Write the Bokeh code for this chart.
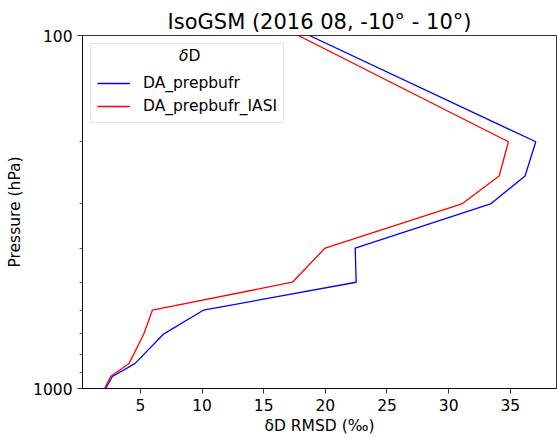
from bokeh.plotting import figure
from bokeh.models import Range1d, FixedTicker, Legend, LegendItem, Label, CustomJSTickFormatter
from bokeh.embed import file_html
from bokeh.resources import INLINE

# Data
levels = [1000, 925, 850, 700, 600, 500, 400, 300, 250, 200, 100]
rmsd_prepbufr = [2.18, 2.72, 4.55, 6.9, 10.1, 22.5, 22.42, 33.4, 36.2, 37.07, 18.7]
rmsd_prepbufr_iasi = [2.09, 2.58, 4.07, 5.28, 5.97, 17.33, 19.98, 31.07, 34.1, 34.85, 17.8]
series_names = ["DA_prepbufr", "DA_prepbufr_IASI"]
x_ticks = [5, 10, 15, 20, 25, 30, 35]
y_major = [100, 1000]
y_minor = [200, 300, 400, 500, 600, 700, 800, 900]

FONT = "DejaVu Sans"
TICK = "15.5px"
LEG = "15.5px"

p = figure(width=557, height=441,
           x_range=Range1d(0.3, 38.75), y_range=Range1d(1000, 100),
           y_axis_type="log", output_backend="svg", toolbar_location=None,
           min_border_left=82, min_border_right=1, min_border_top=35, min_border_bottom=53)

p.title.text = "IsoGSM (2016 08, -10° - 10°)"
p.title.align = "center"
p.title.text_font = FONT
p.title.text_font_size = "21px"
p.title.text_font_style = "normal"
p.title.text_color = "black"
p.title.standoff = 3

p.xgrid.visible = False
p.ygrid.visible = False
p.outline_line_color = "black"
p.outline_line_width = 0.8
p.outline_line_alpha = 1.0
p.background_fill_color = "white"
p.border_fill_color = "white"

r1 = p.line(rmsd_prepbufr, levels, line_color="blue", line_width=1.3)
r2 = p.line(rmsd_prepbufr_iasi, levels, line_color="red", line_width=1.3)

for ax in (p.xaxis[0], p.yaxis[0]):
    ax.axis_line_color = "black"
    ax.axis_line_width = 0.8
    ax.major_tick_line_color = "black"
    ax.major_tick_line_width = 0.8
    ax.minor_tick_line_color = "black"
    ax.minor_tick_line_width = 0.6
    ax.major_tick_in = 0
    ax.major_tick_out = 5
    ax.minor_tick_in = 0
    ax.minor_tick_out = 3
    ax.major_label_text_font = FONT
    ax.major_label_text_font_size = TICK
    ax.major_label_text_color = "black"
    ax.axis_label_text_font = FONT
    ax.axis_label_text_font_size = TICK
    ax.axis_label_text_font_style = "normal"
    ax.axis_label_text_color = "black"
    ax.major_label_standoff = 5

p.xaxis.ticker = FixedTicker(ticks=x_ticks, minor_ticks=[])
p.xaxis.axis_label = "δD RMSD (‰)"
p.xaxis.axis_label_standoff = 3

p.yaxis.ticker = FixedTicker(ticks=y_major, minor_ticks=y_minor)
p.yaxis.formatter = CustomJSTickFormatter(code="return String(Math.round(tick))")
p.yaxis.axis_label = "Pressure (hPa)"
p.yaxis.axis_label_standoff = 6

# legend title drawn as labels (italic delta), legend box transparent over them
p.add_layout(Label(x=106, y=333, x_units="screen", y_units="screen", text="δ",
                   text_align="right", text_baseline="middle", text_font=FONT,
                   text_font_size=LEG, text_font_style="italic", text_color="black"))
p.add_layout(Label(x=106, y=333, x_units="screen", y_units="screen", text="D",
                   text_align="left", text_baseline="middle", text_font=FONT,
                   text_font_size=LEG, text_color="black"))

legend = Legend(items=[LegendItem(label=series_names[0], renderers=[r1]),
                       LegendItem(label=series_names[1], renderers=[r2])],
                location="top_left", margin=8, padding=6, spacing=3,
                glyph_width=33, glyph_height=20, label_height=20, label_standoff=13,
                title="δD", title_text_alpha=0, title_standoff=5,
                title_text_font=FONT, title_text_font_size=LEG,
                label_text_font=FONT, label_text_font_size=LEG, label_text_color="black",
                border_line_color="#cccccc", border_line_width=1,
                background_fill_alpha=0.0)
p.add_layout(legend)

open("out.html", "w").write(file_html(p, INLINE))
